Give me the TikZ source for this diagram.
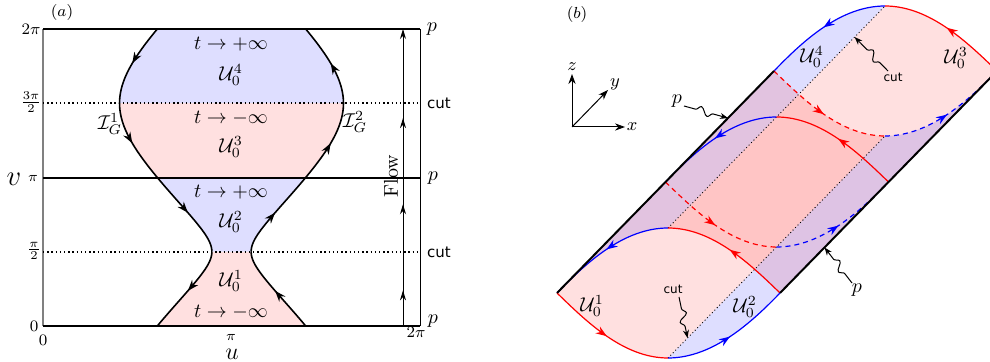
\documentclass[tikz,border=0pt]{standalone}
\usepackage{fontspec}
\newfontfamily\cutfont{DejaVu Sans}
\usetikzlibrary{arrows.meta,decorations.markings,decorations.pathmorphing,calc}
\tikzset{
  bfill/.style={fill=blue!13},
  rfill/.style={fill=red!12},
  bsheet/.style={fill=blue,fill opacity=0.13},
  rsheet/.style={fill=red,fill opacity=0.12},
  igcurve/.style={line width=0.8pt},
  midarrow/.style={postaction={decorate},decoration={markings,mark=at position #1 with {\arrow{Stealth[length=5.5pt,width=4pt]}}}},
  midarrow/.default=0.5,
  dotline/.style={line width=0.7pt,dash pattern=on 0.7pt off 1.4pt},
  thinline/.style={line width=0.5pt},
  hline/.style={line width=0.9pt},
  pline/.style={line width=1pt},
  cutline/.style={line width=0.45pt,dash pattern=on 0.45pt off 1.3pt},
  arcline/.style={line width=0.6pt},
  hidden/.style={dash pattern=on 2.5pt off 2pt},
  squig/.style={line width=0.5pt,-{Stealth[length=4pt,width=3pt]},decorate,
    decoration={snake,amplitude=2pt,segment length=8pt,pre length=6pt,post length=5pt}},
  lab/.style={inner sep=0.5pt},
  cutlab/.style={font=\cutfont\fontsize{7.5}{9}\selectfont,inner sep=0.5pt},
  cutlabb/.style={font=\cutfont\fontsize{6}{7}\selectfont,inner sep=0.5pt},
  ticklab/.style={font=\footnotesize,inner sep=0.5pt},
  axtip/.style={-{Stealth[length=5pt,width=3.6pt]},line width=0.5pt},
  flowmarks/.style={postaction={decorate},decoration={markings,
     mark=at position 0.12 with {\arrow{Stealth[length=5pt,width=3pt]}},
     mark=at position 0.41 with {\arrow{Stealth[length=5pt,width=3pt]}},
     mark=at position 0.70 with {\arrow{Stealth[length=5pt,width=3pt]}}}},
}
\begin{document}
\begin{tikzpicture}[x=0.5pt,y=-0.5pt,
  declare function={hw(\t)=1.0472*acos(0.328+0.619*sin(\t)); vy(\t)=326-0.82502*\t;}]
\path[use as bounding box,clip] (0,0) rectangle (990,362);

% ---------------- panel (a) ----------------
\fill[rfill] plot[domain=0:90,samples=40] ({231.5-hw(\x)},{vy(\x)}) -- plot[domain=90:0,samples=40] ({231.5+hw(\x)},{vy(\x)}) -- cycle;
\fill[bfill] plot[domain=90:180,samples=40] ({231.5-hw(\x)},{vy(\x)}) -- plot[domain=180:90,samples=40] ({231.5+hw(\x)},{vy(\x)}) -- cycle;
\fill[rfill] plot[domain=180:270,samples=40] ({231.5-hw(\x)},{vy(\x)}) -- plot[domain=270:180,samples=40] ({231.5+hw(\x)},{vy(\x)}) -- cycle;
\fill[bfill] plot[domain=270:360,samples=40] ({231.5-hw(\x)},{vy(\x)}) -- plot[domain=360:270,samples=40] ({231.5+hw(\x)},{vy(\x)}) -- cycle;

\foreach \a/\b in {360/270,270/180,180/90,90/0}
  \draw[igcurve,midarrow] plot[domain=\a:\b,samples=40] ({231.5-hw(\x)},{vy(\x)});
\foreach \a/\b in {0/90,90/180,180/270,270/360}
  \draw[igcurve,midarrow] plot[domain=\a:\b,samples=40] ({231.5+hw(\x)},{vy(\x)});

\coordinate (L0) at (43,326); \coordinate (R0) at (420,326);
\coordinate (L1) at (43,252); \coordinate (R1) at (420,252);
\coordinate (L2) at (43,178); \coordinate (R2) at (420,178);
\coordinate (L3) at (43,103); \coordinate (R3) at (420,103);
\coordinate (L4) at (43,29);  \coordinate (R4) at (420,29);
\coordinate (F0) at (403,326); \coordinate (F1) at (403,29);

\draw[line width=1pt,gray] (L0) -- (L4);
\draw[dotline] (L1) -- (R1);
\draw[dotline] (L3) -- (R3);
\draw[hline] (L0) -- (R0);
\draw[hline] (L2) -- (R2);
\draw[hline] (L4) -- (R4);
\draw[thinline] (R0) -- (R4);
\draw[thinline,-{Stealth[length=5pt,width=3pt]},flowmarks] (F0) -- (F1);

\node[lab,rotate=90] (flow) at (391,176) {Flow};

\node[lab] (t4) at (231,44) {$t\to+\infty$};
\node[lab] (u4) at (231,75) {$\mathcal{U}_0^4$};
\node[lab] (t3) at (231,118) {$t\to-\infty$};
\node[lab] (u3) at (231,147) {$\mathcal{U}_0^3$};
\node[lab] (t2) at (231,192) {$t\to+\infty$};
\node[lab] (u2) at (231,222) {$\mathcal{U}_0^2$};
\node[lab] (u1) at (231,281) {$\mathcal{U}_0^1$};
\node[lab] (t1) at (231,312) {$t\to-\infty$};
\node[lab] (ig1) at (110,124) {$\mathcal{I}_G^1$};
\node[lab] (ig2) at (355,122) {$\mathcal{I}_G^2$};

\node[ticklab] (y4) at (31,29) {$2\pi$};
\node[ticklab] (y3) at (31,102) {$\frac{3\pi}{2}$};
\node[font=\scriptsize,inner sep=0.5pt] (y2) at (33,178) {$\pi$};
\node[ticklab] (y1) at (34,251) {$\frac{\pi}{2}$};
\node[ticklab] (y0) at (34,326) {$0$};
\node[font=\Large,inner sep=0.5pt] (vlab) at (14,179) {$v$};
\node[ticklab] (x0) at (43,340) {$0$};
\node[font=\scriptsize,inner sep=0.5pt] (x1) at (231,337) {$\pi$};
\node[ticklab] (x2) at (416,332) {$2\pi$};
\node[font=\large,inner sep=0.5pt] (ulab) at (232,354) {$u$};

\node[lab] (p4) at (432,29) {$p$};
\node[lab] (p2) at (433,178) {$p$};
\node[lab] (p0) at (433,321) {$p$};
\node[cutlab] (c3) at (439,103) {cut};
\node[cutlab] (c1) at (439,252) {cut};
\node[font=\footnotesize,inner sep=0.5pt] (alab) at (62,13) {$(a)$};

% ---------------- panel (b) ----------------
\coordinate (A0) at (557,293);   \coordinate (T0) at (668,228);
\coordinate (B0) at (780,293);   \coordinate (D0) at (668,358);
\coordinate (A1) at (665.5,182); \coordinate (T1) at (776.5,117);
\coordinate (B1) at (888.5,182); \coordinate (D1) at (776.5,247);
\coordinate (A2) at (774,71);    \coordinate (T2) at (885,6);
\coordinate (B2) at (997,71);    \coordinate (D2) at (885,136);

% sheets
\path[bsheet] (A0) .. controls +(28,-29) and +(-45,0) .. (T0) -- (T2)
   .. controls +(-45,0) and +(28,-29) .. (A2) -- cycle;
\path[rsheet] (T0) .. controls +(45,0) and +(-29,-28) .. (B0) -- (B2)
   .. controls +(-29,-28) and +(45,0) .. (T2) -- cycle;
\path[rsheet] (A0) .. controls +(29,28) and +(-45,0) .. (D0) -- (D2)
   .. controls +(-45,0) and +(29,28) .. (A2) -- cycle;
\path[bsheet] (D0) .. controls +(45,0) and +(-28,29) .. (B0) -- (B2)
   .. controls +(-28,29) and +(45,0) .. (D2) -- cycle;

% cut lines
\draw[cutline] (T0) -- (T2);
\draw[cutline] (D0) -- (D2);

% lens arcs
\foreach \i in {0,1,2}{
  \draw[arcline,blue,midarrow] (T\i) .. controls +(-45,0) and +(28,-29) .. (A\i);
  \draw[arcline,red,midarrow] (B\i) .. controls +(-29,-28) and +(45,0) .. (T\i);
}
\draw[arcline,red,midarrow] (A0) .. controls +(29,28) and +(-45,0) .. (D0);
\draw[arcline,blue,midarrow] (D0) .. controls +(45,0) and +(-28,29) .. (B0);
\foreach \i in {1,2}{
  \draw[arcline,red,hidden,midarrow] (A\i) .. controls +(29,28) and +(-45,0) .. (D\i);
  \draw[arcline,blue,hidden,midarrow] (D\i) .. controls +(45,0) and +(-28,29) .. (B\i);
}

% p lines
\draw[pline] (A0) -- (A2);
\draw[pline] (B0) -- (B2);

% labels
\node[lab] (bu1) at (592,306) {$\mathcal{U}_0^1$};
\node[lab] (bu2) at (745,307) {$\mathcal{U}_0^2$};
\node[lab] (bu4) at (812,57) {$\mathcal{U}_0^4$};
\node[lab] (bu3) at (956,58) {$\mathcal{U}_0^3$};
\node[font=\footnotesize,inner sep=0.5pt] (blab) at (577,15) {$(b)$};

% squiggle pointers
\node[lab] (pL) at (677,101) {$p$};
\coordinate (pLs) at (684,106);
\coordinate (pLt) at ($(A0)!0.788!(A2)$);
\draw[squig] (pLs) -- (pLt);
\node[lab] (pR) at (857,290) {$p$};
\coordinate (pRs) at (852,283);
\coordinate (pRt) at ($(B0)!0.205!(B2)$);
\draw[squig] (pRs) -- (pRt);
\node[cutlabb] (cF) at (673,289) {cut};
\coordinate (cFs) at (679,297);
\coordinate (cFt) at ($(D0)!0.09!(D2)$);
\draw[squig] (cFs) -- (cFt);
\node[cutlabb] (cB) at (893,77) {cut};
\coordinate (cBs) at (888,71);
\coordinate (cBt) at ($(T0)!0.86!(T2)$);
\draw[squig] (cBs) -- (cBt);

% axes triad
\coordinate (O) at (572,127);
\coordinate (zt) at (572,74);
\coordinate (xt) at (625,127);
\coordinate (yt) at (608,90);
\draw[axtip] (O) -- (zt);
\draw[axtip] (O) -- (xt);
\draw[axtip] (O) -- (yt);
\node[font=\small,inner sep=0.5pt] (zl) at (572,67) {$z$};
\node[font=\small,inner sep=0.5pt] (xl) at (632,127) {$x$};
\node[font=\small,inner sep=0.5pt] (yl) at (615,84) {$y$};
\end{tikzpicture}
\end{document}
